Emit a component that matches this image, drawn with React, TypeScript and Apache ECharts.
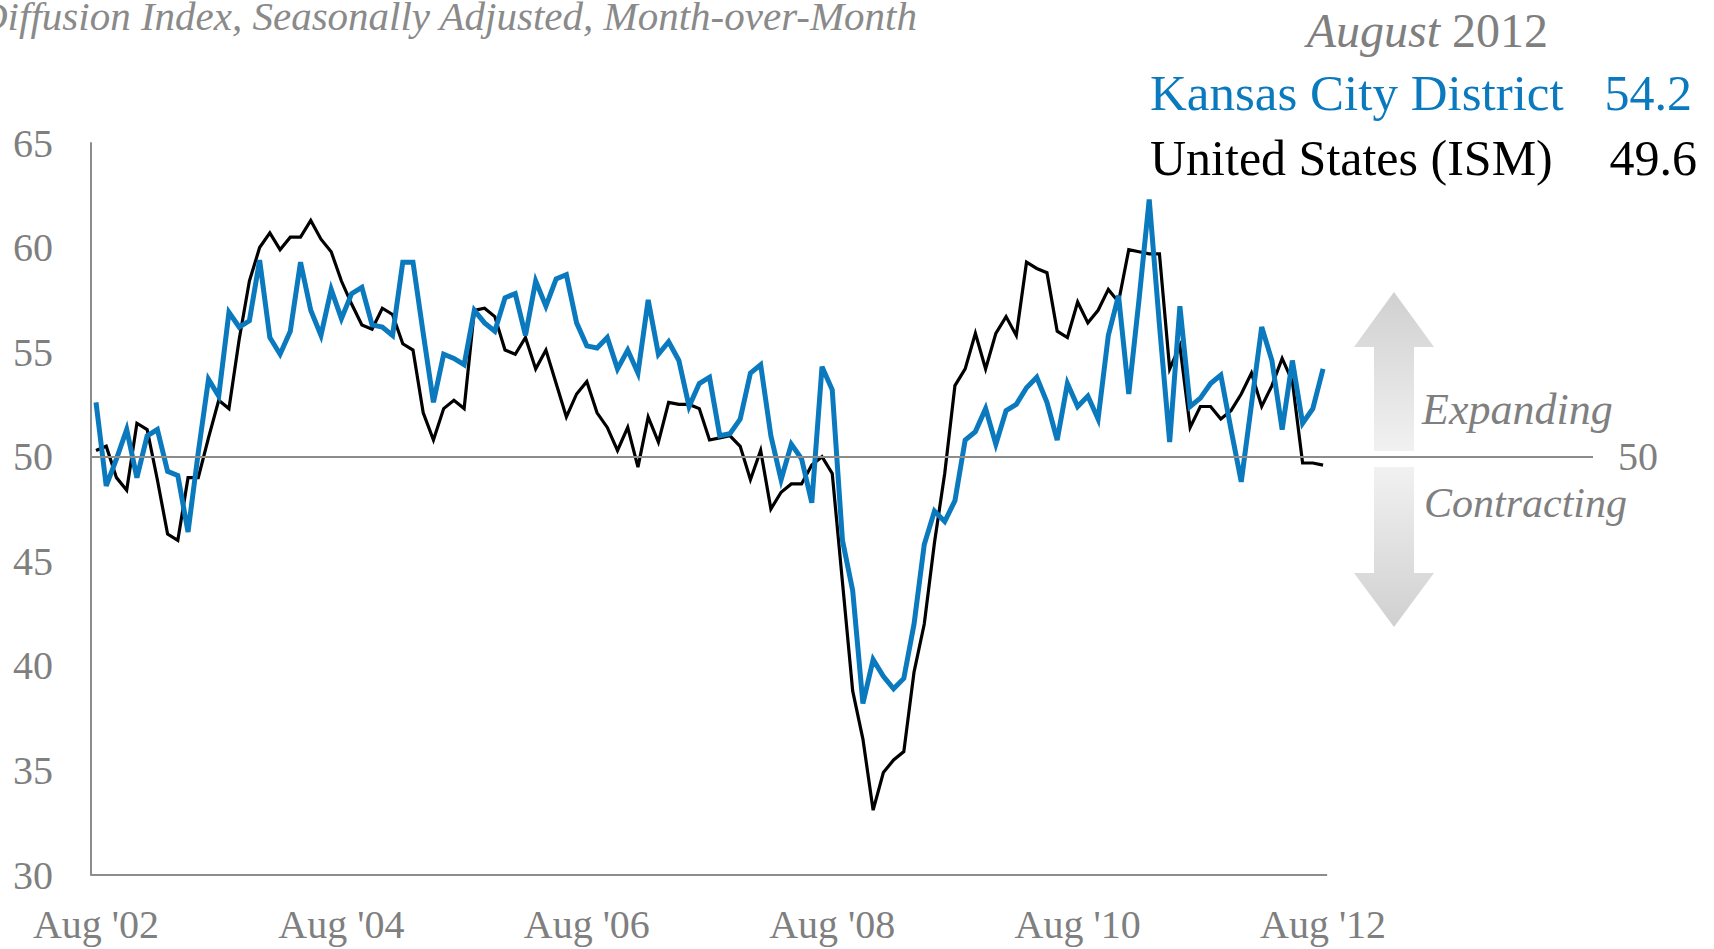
import React, { useEffect, useRef } from "react";
import * as echarts from "echarts";

// Monthly, Aug 2002 .. Aug 2012 (121 months)
const usIsm: number[] = [
  50.3, 50.5, 49.0, 48.4, 51.6, 51.3, 48.9, 46.3, 46.0, 49.0, 49.0, 50.9,
  52.7, 52.3, 55.6, 58.4, 60.0, 60.7, 59.9, 60.5, 60.5, 61.3, 60.4, 59.8,
  58.4, 57.3, 56.3, 56.1, 57.1, 56.8, 55.4, 55.1, 52.1, 50.8, 52.3, 52.7,
  52.3, 57.0, 57.1, 56.7, 55.1, 54.9, 55.7, 54.2, 55.1, 53.5, 51.9, 53.0,
  53.6, 52.1, 51.4, 50.3, 51.4, 49.5, 51.9, 50.7, 52.6, 52.5, 52.5, 52.3,
  50.8, 50.9, 51.0, 50.5, 48.9, 50.3, 47.5, 48.3, 48.7, 48.7, 49.6, 50.0,
  49.2, 44.0, 38.8, 36.5, 33.1, 34.9, 35.5, 35.9, 39.7, 42.0, 45.9, 49.2,
  53.4, 54.2, 55.9, 54.2, 55.9, 56.7, 55.8, 59.3, 59.0, 58.8, 56.0, 55.7,
  57.4, 56.4, 57.0, 58.0, 57.4, 59.9, 59.8, 59.7, 59.7, 54.2, 55.3, 51.4,
  52.4, 52.4, 51.8, 52.2, 53.0, 54.0, 52.4, 53.4, 54.7, 53.6, 49.7, 49.7,
  49.6,
];

const kcDistrict: number[] = [
  52.6, 48.6, 49.9, 51.3, 49.0, 51.0, 51.3, 49.3, 49.1, 46.4, 50.2, 53.7,
  52.9, 56.9, 56.2, 56.5, 59.4, 55.7, 54.9, 56.0, 59.3, 57.0, 55.8, 58.0,
  56.6, 57.8, 58.1, 56.3, 56.2, 55.8, 59.3, 59.3, 55.9, 52.6, 54.9, 54.7,
  54.4, 57.0, 56.4, 56.0, 57.6, 57.8, 55.8, 58.4, 57.2, 58.5, 58.7, 56.4,
  55.3, 55.2, 55.7, 54.2, 55.1, 54.0, 57.5, 54.9, 55.5, 54.6, 52.4, 53.5,
  53.8, 51.0, 51.1, 51.8, 54.0, 54.4, 51.0, 48.9, 50.6, 49.9, 47.8, 54.3,
  53.2, 46.0, 43.6, 38.2, 40.3, 39.5, 38.9, 39.4, 42.0, 45.8, 47.4, 46.9,
  47.9, 50.8, 51.2, 52.3, 50.6, 52.2, 52.5, 53.3, 53.8, 52.6, 50.8, 53.5,
  52.4, 52.9, 51.8, 55.8, 57.7, 53.0, 57.5, 62.3, 56.3, 50.7, 57.2, 52.4,
  52.8, 53.5, 53.9, 51.3, 48.8, 52.5, 56.2, 54.6, 51.3, 54.6, 51.6, 52.3,
  54.2,
];

const xTickMonths: number[] = [0, 24, 48, 72, 96, 120];
const xTickLabels: string[] = ["Aug '02", "Aug '04", "Aug '06", "Aug '08", "Aug '10", "Aug '12"];
const yTicks = { min: 30, max: 65, interval: 5 };
const referenceLevel = 50;

const BLUE = "#0b79bd";
const GRAY = "#7f7f7f";
const FONT = "'Liberation Serif', 'Times New Roman', serif";

export default function App() {
  const ref = useRef<HTMLDivElement>(null);

  useEffect(() => {
    if (!ref.current) return;
    const chart = echarts.init(ref.current, undefined, { renderer: "svg" });

    const usData = usIsm.map((v, i) => [i, v]);
    const kcData = kcDistrict.map((v, i) => [i, v]);
    const xMin = -0.49;
    const xAxisEnd = 120.4;

    const upArrow = [
      [1394, 292], [1434, 347], [1414, 347], [1414, 451],
      [1374, 451], [1374, 347], [1354, 347],
    ];
    const downArrow = [
      [1374, 467], [1414, 467], [1414, 573], [1434, 573],
      [1394, 627], [1354, 573], [1374, 573],
    ];

    const option: any = {
      animation: false,
      backgroundColor: "#ffffff",
      grid: { left: 91, top: 143, bottom: 74, right: 121, containLabel: false },
      xAxis: {
        type: "value",
        min: xMin,
        max: 146.4,
        axisLine: { show: false },
        axisTick: { show: false },
        splitLine: { show: false },
        axisLabel: {
          customValues: xTickMonths,
          formatter: (v: number) => {
            const idx = xTickMonths.indexOf(Math.round(v));
            return idx >= 0 ? xTickLabels[idx] : "";
          },
          color: GRAY,
          fontFamily: FONT,
          fontSize: 40,
          margin: 29,
        },
      },
      yAxis: {
        type: "value",
        min: yTicks.min,
        max: yTicks.max,
        interval: yTicks.interval,
        axisLine: { show: true, onZero: false, lineStyle: { color: "#8c8c8c", width: 2 } },
        axisTick: { show: false },
        splitLine: { show: false },
        axisLabel: {
          color: GRAY,
          fontFamily: FONT,
          fontSize: 40,
          margin: 38,
        },
      },
      series: [
        {
          name: "United States (ISM)",
          type: "line",
          data: usData,
          showSymbol: false,
          symbol: "none",
          clip: false,
          z: 2,
          lineStyle: { color: "#000000", width: 3.2, join: "miter" },
          markLine: {
            silent: true,
            symbol: ["none", "none"],
            animation: false,
            data: [
              [
                { coord: [xMin, yTicks.min], lineStyle: { color: "#8c8c8c", width: 2, type: "solid" }, label: { show: false } },
                { coord: [xAxisEnd, yTicks.min] },
              ],
              {
                yAxis: referenceLevel,
                lineStyle: { color: "#8c8c8c", width: 2, type: "solid" },
                label: {
                  show: true,
                  position: "end",
                  formatter: String(referenceLevel),
                  color: GRAY,
                  fontFamily: FONT,
                  fontSize: 40,
                  distance: 25,
                },
              },
            ],
          },
        },
        {
          name: "Kansas City District",
          type: "line",
          data: kcData,
          showSymbol: false,
          symbol: "none",
          clip: false,
          z: 3,
          lineStyle: { color: BLUE, width: 5, join: "miter" },
        },
      ],
      graphic: [
        {
          type: "text",
          x: -22,
          y: 16,
          style: {
            text: "Diffusion Index, Seasonally Adjusted, Month-over-Month",
            fill: "#8a8a8a",
            font: `italic 41px ${FONT}`,
            verticalAlign: "middle",
          },
        },
        {
          type: "text",
          x: 1548,
          y: 30,
          style: {
            text: "{i|August} {n|2012}",
            align: "right",
            verticalAlign: "middle",
            rich: {
              i: { fontStyle: "italic", fontSize: 48, fontFamily: FONT, fill: GRAY, color: GRAY },
              n: { fontSize: 48, fontFamily: FONT, fill: GRAY, color: GRAY },
            },
            fill: GRAY,
            font: `48px ${FONT}`,
          },
        },
        {
          type: "text",
          x: 1150,
          y: 93,
          style: { text: "Kansas City District", fill: BLUE, font: `51px ${FONT}`, verticalAlign: "middle" },
        },
        {
          type: "text",
          x: 1692,
          y: 93,
          style: {
            text: kcDistrict[kcDistrict.length - 1].toFixed(1),
            fill: BLUE,
            font: `50px ${FONT}`,
            align: "right",
            verticalAlign: "middle",
          },
        },
        {
          type: "text",
          x: 1150,
          y: 158,
          style: { text: "United States (ISM)", fill: "#000", font: `50px ${FONT}`, verticalAlign: "middle" },
        },
        {
          type: "text",
          x: 1697,
          y: 158,
          style: {
            text: usIsm[usIsm.length - 1].toFixed(1),
            fill: "#000",
            font: `50px ${FONT}`,
            align: "right",
            verticalAlign: "middle",
          },
        },
        {
          type: "polygon",
          shape: { points: upArrow },
          silent: true,
          style: {
            fill: new echarts.graphic.LinearGradient(0, 0, 0, 1, [
              { offset: 0, color: "#d0d0d0" },
              { offset: 1, color: "#f1f1f1" },
            ]),
          },
        },
        {
          type: "polygon",
          shape: { points: downArrow },
          silent: true,
          style: {
            fill: new echarts.graphic.LinearGradient(0, 0, 0, 1, [
              { offset: 0, color: "#f1f1f1" },
              { offset: 1, color: "#d0d0d0" },
            ]),
          },
        },
        {
          type: "text",
          x: 1422,
          y: 409,
          style: { text: "Expanding", fill: GRAY, font: `italic 44px ${FONT}`, verticalAlign: "middle" },
        },
        {
          type: "text",
          x: 1424,
          y: 503,
          style: { text: "Contracting", fill: GRAY, font: `italic 42px ${FONT}`, verticalAlign: "middle" },
        },
      ],
    };

    chart.setOption(option);
    return () => {
      chart.dispose();
    };
  }, []);

  return (
    <div
      ref={ref}
      style={{ position: "fixed", left: 0, top: 0, width: 1714, height: 949, background: "#fff" }}
    />
  );
}
